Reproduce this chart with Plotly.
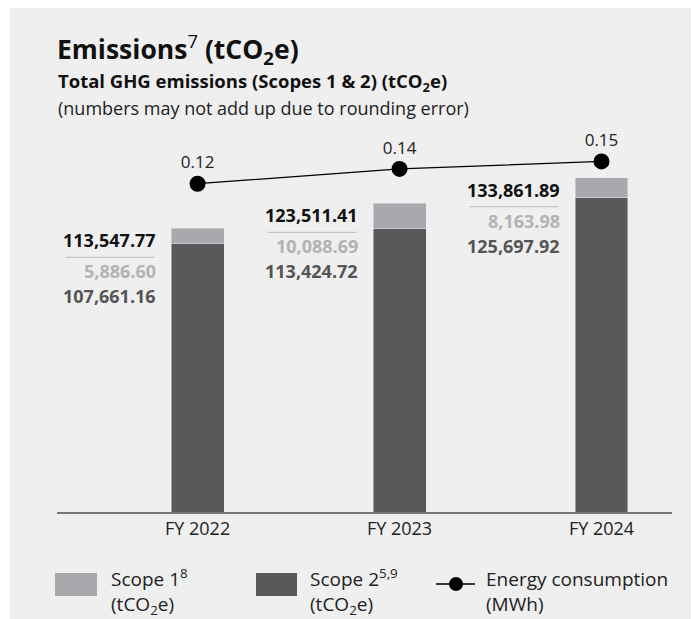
import plotly.graph_objects as go

# --- data -------------------------------------------------------------
years = ["FY 2022", "FY 2023", "FY 2024"]
scope1 = [5886.60, 10088.69, 8163.98]
scope2 = [107661.16, 113424.72, 125697.92]
totals = [113547.77, 123511.41, 133861.89]
energy = [0.12, 0.14, 0.15]

# --- colours / fonts ---------------------------------------------------
C_S1 = "#a7a9ac"
C_S2 = "#58595b"
BG = "#efefef"
FONT = "Open Sans"

W, H = 693, 619
ML, MR, MT, MB = 57, 21, 130, 107
PW, PH = W - ML - MR, H - MT - MB


def px(x):
    return (x - ML) / PW


def py(y):
    return (H - MB - y) / PH


fig = go.Figure()

fig.add_trace(go.Bar(
    x=years, y=scope2, name="Scope 2", marker_color=C_S2, width=0.262,
    hoverinfo="skip", showlegend=False,
))
fig.add_trace(go.Bar(
    x=years, y=scope1, name="Scope 1", marker_color=C_S1, width=0.262,
    hoverinfo="skip", showlegend=False,
))
fig.add_trace(go.Scatter(
    x=years, y=energy, yaxis="y2", mode="lines+markers+text",
    line=dict(color="#000000", width=1.3),
    marker=dict(size=16, color="#000000"),
    text=[f"{v:.2f}" for v in energy], textposition="top center",
    textfont=dict(family=FONT, size=17, color="#222222"),
    hoverinfo="skip", showlegend=False,
))

shapes = [
    # panel background
    dict(type="rect", xref="paper", yref="paper", layer="below",
         x0=px(10), x1=px(691), y0=py(619), y1=py(8),
         fillcolor=BG, line=dict(width=0)),
]
annotations = []

# value labels to the left of each bar
for i, yr in enumerate(years):
    for txt, color, shift in [
        (f"{totals[i]:,.2f}", "#111111", -12),
        (f"{scope1[i]:,.2f}", "#b3b3b3", -43),
        (f"{scope2[i]:,.2f}", "#555555", -68),
    ]:
        annotations.append(dict(
            x=yr, y=totals[i], xref="x", yref="y", text=f"<b>{txt}</b>",
            showarrow=False, xanchor="right", yanchor="middle",
            xshift=-40, yshift=shift,
            font=dict(family=FONT, size=18, color=color),
        ))
    shapes.append(dict(
        type="line", xref="x", yref="y",
        xsizemode="pixel", xanchor=i, x0=-132, x1=-43,
        ysizemode="pixel", yanchor=totals[i], y0=-29, y1=-29,
        line=dict(color="#c6c6c6", width=1.2),
    ))

# titles
annotations += [
    dict(x=px(55), y=py(49), xref="paper", yref="paper", xanchor="left",
         yanchor="middle", showarrow=False,
         text="<b>Emissions</b><sup>7</sup><b> (tCO<sub>2</sub>e)</b>",
         font=dict(family=FONT, size=26.5, color="#111111")),
    dict(x=px(56), y=py(82), xref="paper", yref="paper", xanchor="left",
         yanchor="middle", showarrow=False,
         text="<b>Total GHG emissions (Scopes 1 &amp; 2) (tCO<sub>2</sub>e)</b>",
         font=dict(family=FONT, size=18.5, color="#111111")),
    dict(x=px(56), y=py(108), xref="paper", yref="paper", xanchor="left",
         yanchor="middle", showarrow=False,
         text="(numbers may not add up due to rounding error)",
         font=dict(family=FONT, size=18, color="#222222")),
]

# legend
shapes += [
    dict(type="rect", xref="paper", yref="paper", x0=px(55), x1=px(97),
         y0=py(596), y1=py(573), fillcolor=C_S1, line=dict(width=0)),
    dict(type="rect", xref="paper", yref="paper", x0=px(256), x1=px(297),
         y0=py(596), y1=py(573), fillcolor=C_S2, line=dict(width=0)),
    dict(type="line", xref="paper", yref="paper", x0=px(436), x1=px(475),
         y0=py(584), y1=py(584), line=dict(color="#000000", width=1.3)),
    dict(type="circle", xref="paper", yref="paper", x0=px(449), x1=px(463),
         y0=py(591), y1=py(577), fillcolor="#000000", line=dict(width=0)),
]
for x0, label in [
    (109, "Scope 1<sup>8</sup><br>(tCO<sub>2</sub>e)"),
    (308, "Scope 2<sup>5,9</sup><br>(tCO<sub>2</sub>e)"),
    (484, "Energy consumption<br>(MWh)"),
]:
    annotations.append(dict(
        x=px(x0), y=py(591), xref="paper", yref="paper", xanchor="left",
        yanchor="middle", align="left", showarrow=False, text=label,
        font=dict(family=FONT, size=19, color="#222222"),
    ))

fig.update_layout(
    width=W, height=H,
    margin=dict(l=ML, r=MR, t=MT, b=MB),
    paper_bgcolor="#ffffff", plot_bgcolor="rgba(0,0,0,0)",
    barmode="stack", showlegend=False,
    xaxis=dict(range=[-0.696, 2.349], showline=True, linecolor="#777777",
               linewidth=1.5, showgrid=False, zeroline=False, ticks="",
               tickfont=dict(family=FONT, size=18, color="#222222")),
    yaxis=dict(range=[0, 152900], visible=False, showgrid=False),
    yaxis2=dict(range=[-0.3224, 0.1924], overlaying="y", visible=False,
                showgrid=False),
    shapes=shapes, annotations=annotations,
)

fig.write_html("out.html")
